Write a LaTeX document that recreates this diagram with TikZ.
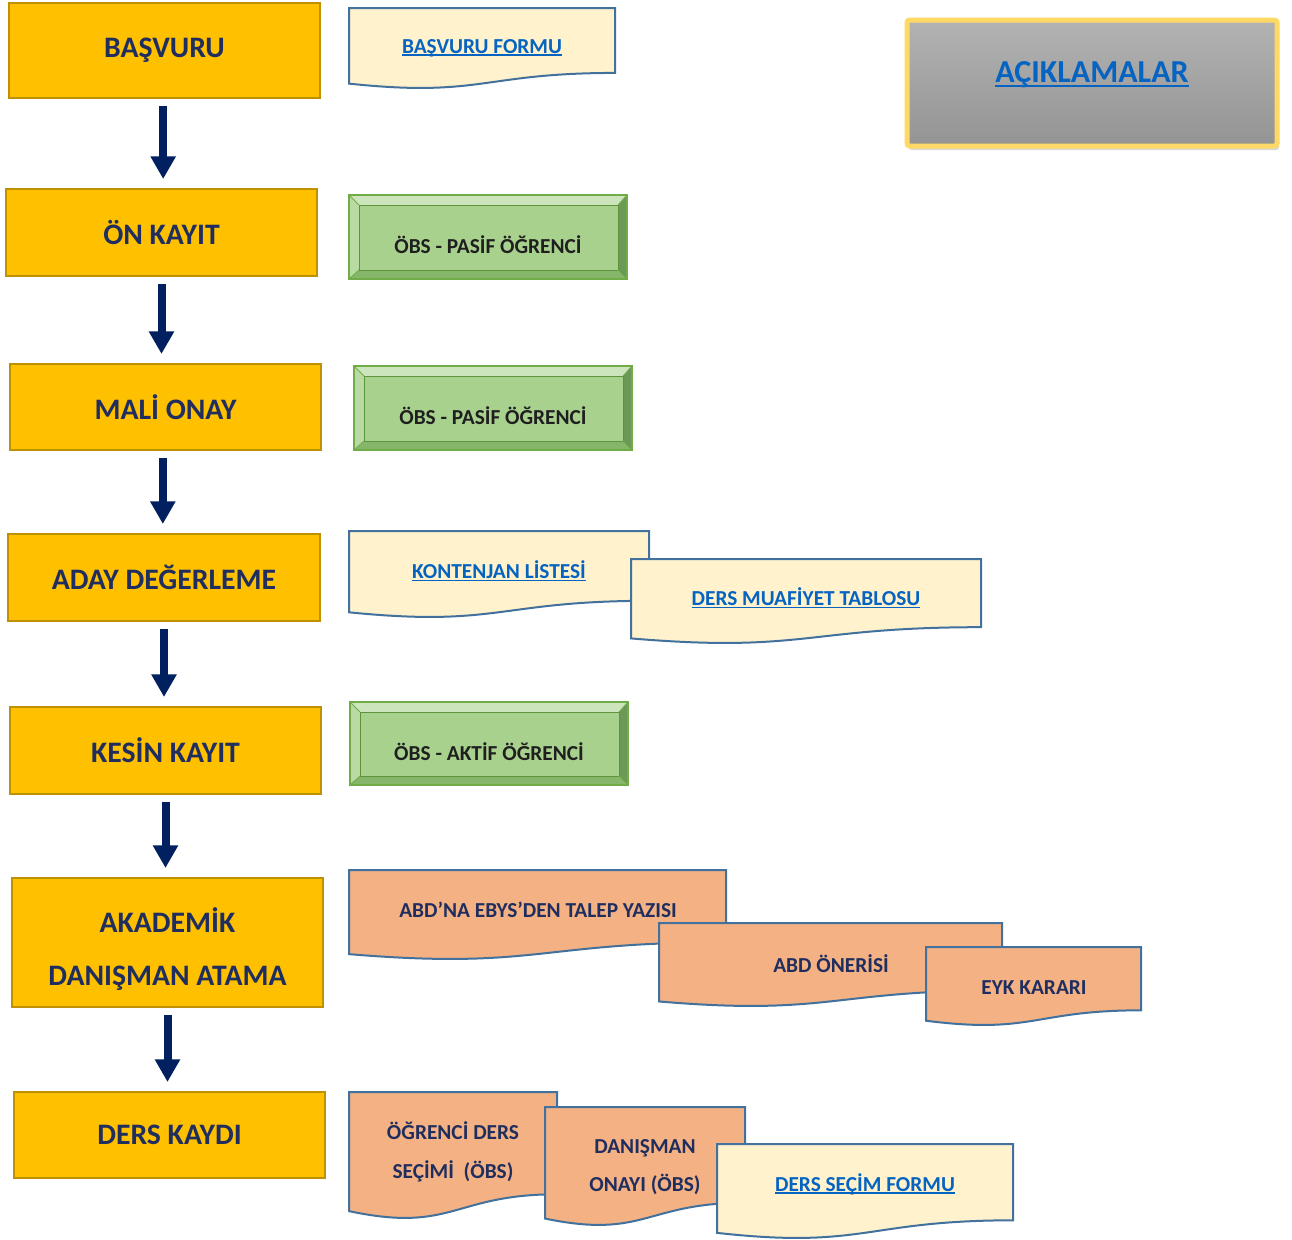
\documentclass[tikz,border=0pt]{standalone}
\usepackage{fontspec}
\setmainfont{Carlito}
\usetikzlibrary{arrows.meta,shadows,calc}
\definecolor{gold}{HTML}{FFC000}
\definecolor{goldline}{HTML}{BF9000}
\definecolor{navy}{HTML}{002060}
\definecolor{txtnavy}{HTML}{1F2E5E}
\definecolor{docline}{HTML}{41719C}
\definecolor{beige}{HTML}{FFF2CC}
\definecolor{peach}{HTML}{F4B183}
\definecolor{linkblue}{HTML}{0563C1}
\definecolor{gface}{HTML}{A9D18E}
\definecolor{gtop}{HTML}{CCE5BC}
\definecolor{gleft}{HTML}{B9DAA3}
\definecolor{gright}{HTML}{6C9858}
\definecolor{gbot}{HTML}{86B66A}
\definecolor{gline}{HTML}{70AD47}
\definecolor{ylwline}{HTML}{FFD966}
\newcommand\lnk[1]{\setbox0\hbox{#1}\rlap{\rule[-0.13em]{\wd0}{0.07em}}\box0}
\tikzset{
 ybox/.style={draw=goldline, fill=gold, line width=1.5pt, inner sep=0pt, outer sep=0pt, align=center, text=txtnavy, font=\bfseries\fontsize{22.3}{40}\selectfont},
 flowarrow/.style={draw=navy, line width=6pt, -{Triangle[width=18pt,length=17pt]}, shorten <=6pt, shorten >=7.5pt},
 docpath/.style={draw=docline, line width=1.5pt},
 linktext/.style={text=linkblue, inner sep=1pt, font=\bfseries\fontsize{16}{19}\selectfont},
 doctext/.style={text=txtnavy, align=center, inner sep=1pt, font=\bfseries\fontsize{16}{29}\selectfont},
 greentext/.style={text=black!88, inner sep=1pt, font=\bfseries\fontsize{16}{19}\selectfont},
}
\newcommand\yellowbox[6]{%
 \node[ybox, minimum width={(#4-#2)*0.75pt}, minimum height={(#5-#3)*0.75pt}] (#1) at ({(#2+#4)/2},{(#3+#5)/2}) {#6};}
\newcommand\docshape[5]{%
 \pgfmathsetmacro\dochh{(#4-#2)/0.988}%
 \pgfmathsetmacro\docmx{(#1+#3)/2}%
 \pgfmathsetmacro\docyr{#2+0.802*\dochh}%
 \pgfmathsetmacro\docyc{#2+1.1075*\dochh}%
 \pgfmathsetmacro\docyl{#2+0.934*\dochh}%
 \filldraw[docpath, fill=#5] (#1,#2) -- (#3,#2) -- (#3,\docyr) .. controls (\docmx,\docyr) and (\docmx,\docyc) .. (#1,\docyl) -- cycle;}
\newcommand\bevelbox[6]{%
 \fill[gtop] (#2,#3) -- (#4,#3) -- (#4-9,#3+10) -- (#2+10,#3+10) -- cycle;
 \fill[gleft] (#2,#3) -- (#2+10,#3+10) -- (#2+10,#5-9) -- (#2,#5) -- cycle;
 \fill[gright] (#4,#3) -- (#4,#5) -- (#4-9,#5-9) -- (#4-9,#3+10) -- cycle;
 \fill[gbot] (#2,#5) -- (#4,#5) -- (#4-9,#5-9) -- (#2+10,#5-9) -- cycle;
 \filldraw[fill=gface, draw=gline!85!black, line width=0.6pt] (#2+10,#3+10) rectangle (#4-9,#5-9);
 \draw[gline, line width=0.6pt] (#2,#3) -- (#2+10,#3+10) (#4,#3) -- (#4-9,#3+10) (#2,#5) -- (#2+10,#5-9) (#4,#5) -- (#4-9,#5-9);
 \draw[gline, line width=1.3pt] (#2,#3) rectangle (#4,#5);
 \node[greentext] (#1) at ({(#2+#4)/2},{(#3+#5)/2+8}) {#6};}
\begin{document}
\begin{tikzpicture}[x=0.75pt,y=-0.75pt]
\useasboundingbox (0,0) rectangle (1292,1239);
% main flow
\yellowbox{b1}{9}{3}{320}{98}{BAŞVURU}
\yellowbox{b2}{6}{189}{317}{276}{ÖN KAYIT}
\yellowbox{b3}{10}{364}{321}{450}{MALİ ONAY}
\yellowbox{b4}{8}{534}{320}{621}{ADAY DEĞERLEME}
\yellowbox{b5}{10}{707}{321}{794}{KESİN KAYIT}
\yellowbox{b6}{12}{878}{323}{1007}{\rule{0pt}{28pt}AKADEMİK\\DANIŞMAN ATAMA}
\yellowbox{b7}{14}{1092}{325}{1178}{DERS KAYDI}
\draw[flowarrow] ([xshift=-1pt]b1.south) -- ([xshift=-1pt]b1.south |- b2.north);
\draw[flowarrow] (b2.south) -- (b2.south |- b3.north);
\draw[flowarrow] ([xshift=-2pt]b3.south) -- ([xshift=-2pt]b3.south |- b4.north);
\draw[flowarrow] (b4.south) -- (b4.south |- b5.north);
\draw[flowarrow] (b5.south) -- (b5.south |- b6.north);
\draw[flowarrow] (b6.south) -- (b6.south |- b7.north);
% documents
\docshape{349}{8}{615}{88}{beige}
\node[linktext] (d1) at (482,48) {\lnk{BAŞVURU FORMU}};
\bevelbox{g1}{349}{195}{627}{279}{ÖBS - PASİF ÖĞRENCİ}
\bevelbox{g2}{354}{366}{632}{450}{ÖBS - PASİF ÖĞRENCİ}
\docshape{349}{531}{649}{617}{beige}
\node[linktext] (d2) at (499,571) {\lnk{KONTENJAN LİSTESİ}};
\docshape{631}{559}{981}{643}{beige}
\node[linktext] (d3) at (806,598) {\lnk{DERS MUAFİYET TABLOSU}};
\bevelbox{g3}{350}{702}{628}{785}{ÖBS - AKTİF ÖĞRENCİ}
\docshape{349}{870}{726}{959}{peach}
\node[doctext] (d4) at (538,910) {ABD’NA EBYS’DEN TALEP YAZISI};
\docshape{659}{923}{1002}{1006}{peach}
\node[doctext] (d5) at (831,964) {ABD ÖNERİSİ};
\docshape{926}{947}{1141}{1025}{peach}
\node[doctext] (d6) at (1034,988) {EYK KARARI};
\docshape{349}{1092}{557}{1218}{peach}
\node[doctext] (d7) at (453,1152) {ÖĞRENCİ DERS\\SEÇİMİ\ \ (ÖBS)};
\docshape{545}{1107}{745}{1225}{peach}
\node[doctext] (d8) at (645,1167) {DANIŞMAN\\ONAYI (ÖBS)};
\docshape{717}{1144}{1013}{1238}{beige}
\node[linktext] (d9) at (865,1184) {\lnk{DERS SEÇİM FORMU}};
% explanation box
\node[draw=ylwline, line width=3.75pt, rounded corners=2pt, top color=black!30, bottom color=black!42, drop shadow={shadow xshift=1.5pt, shadow yshift=-3pt, opacity=0.3}, minimum width={(1277-907)*0.75pt}, minimum height={(146-20)*0.75pt}, inner sep=0pt] (acikbox) at (1092,83) {};
\node[text=linkblue, font=\bfseries\fontsize{24}{28}\selectfont] (acik) at (1092,75) {\lnk{AÇIKLAMALAR}};
\end{tikzpicture}
\end{document}
